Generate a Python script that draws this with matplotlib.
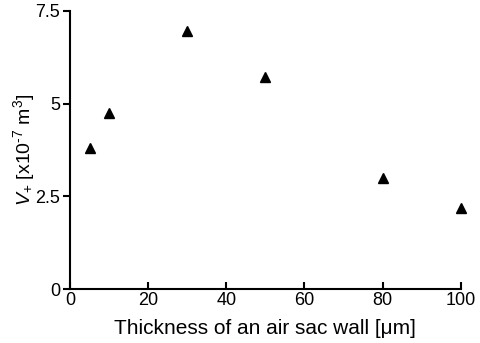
import matplotlib
matplotlib.use("Agg")
import matplotlib.pyplot as plt

thickness = [5, 10, 30, 50, 80, 100]
volume = [3.80, 4.76, 6.96, 5.73, 2.99, 2.18]
x_ticks = [0, 20, 40, 60, 80, 100]
y_ticks = [0, 2.5, 5, 7.5]
y_tick_labels = ["0", "2.5", "5", "7.5"]

plt.rcParams['font.family'] = ['Liberation Sans', 'DejaVu Sans']
plt.rcParams['mathtext.fontset'] = 'custom'
plt.rcParams['mathtext.rm'] = 'Liberation Sans'
plt.rcParams['mathtext.it'] = 'Liberation Sans:italic'

fig = plt.figure(figsize=(4.81, 3.43), dpi=100)
ax = fig.add_axes([0.1455, 0.157, 0.8125, 0.811])

ax.plot(thickness, volume, linestyle='none', marker='^', color='black',
        markersize=7, clip_on=False)

ax.set_xlim(0, 100)
ax.set_ylim(0, 7.5)
ax.set_xticks(x_ticks)
ax.set_yticks(y_ticks)
ax.set_yticklabels(y_tick_labels)

for s in ['top', 'right']:
    ax.spines[s].set_visible(False)
for s in ['left', 'bottom']:
    ax.spines[s].set_linewidth(1.5)

ax.tick_params(axis='x', direction='in', length=5, width=1.5, labelsize=13, pad=2)
ax.tick_params(axis='y', direction='out', length=5, width=1.5, labelsize=13, pad=2)

ax.set_xlabel('Thickness of an air sac wall [μm]', fontsize=15, labelpad=7)
ax.set_ylabel(r'$V_{+}$ [x10$^{\text{-}7}$ m$^{3}$]', fontsize=14, labelpad=-1)

fig.savefig('out.png', dpi=100)
